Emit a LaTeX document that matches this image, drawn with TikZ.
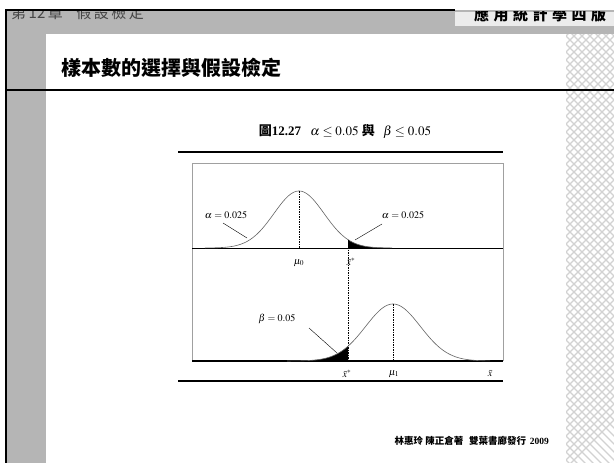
\documentclass[tikz,border=0pt]{standalone}
\usepackage{mathptmx}
\usepackage{fontspec}
\setmainfont{Liberation Serif}
\newfontfamily\cjk{Noto Sans CJK TC}
\definecolor{band}{RGB}{181,181,181}
\definecolor{lightbox}{RGB}{236,236,236}
\definecolor{hdrtext}{RGB}{70,70,70}
\definecolor{curvecol}{RGB}{100,100,100}
\definecolor{framecol}{RGB}{160,160,160}
\definecolor{fretcol}{RGB}{210,210,210}
\tikzset{
  curveline/.style={draw=curvecol, line width=0.6pt},
  guide/.style={draw=black, line width=0.7pt, dash pattern=on 1.5pt off 1pt},
  leader/.style={draw=black, line width=0.4pt},
  lbl/.style={inner sep=0.5pt, font=\fontsize{10}{12}\selectfont},
  rule/.style={draw=black, line width=1.3pt}
}
\begin{document}
\begin{tikzpicture}[x=1pt,y=-1pt]
\useasboundingbox (0,0) rectangle (614,463);
\fill[white] (0,0) rectangle (614,463);
% page frame
\fill[band] (6,10) rectangle (614,34);
\fill[band] (6,10) rectangle (46,463);
\fill[lightbox] (455,12) rectangle (614,26);
\draw[black, line width=2pt] (6,463) -- (6,10) -- (455,10);
% right pattern strip
\begin{scope}
  \clip (566,34) rectangle (614,463);
  \foreach \k in {-60,-52,...,470} {
    \draw[fretcol, line width=1.1pt] (566,\k) -- ++(60,60);
    \draw[fretcol, line width=1.1pt] (566,\k) -- ++(60,-60);
  }
\end{scope}
% header texts (clipped by frame)
\begin{scope}
  \clip (7,11) rectangle (614,34);
  \node[anchor=base west, inner sep=0, text=hdrtext, font=\cjk\fontsize{15}{15}\selectfont] (chap) at (11,19) {第\,12\,章\hspace{0.9em}假\,設\,檢\,定};
  \node[anchor=base west, inner sep=0, font=\cjk\bfseries\fontsize{15}{15}\selectfont] (book) at (474,20) {應\hspace{4.5pt}用\hspace{4.5pt}統\hspace{4.5pt}計\hspace{4.5pt}學\hspace{4.5pt}四\hspace{4.5pt}版};
\end{scope}
% title and header rule
\node[anchor=west, inner sep=0, font=\cjk\bfseries\fontsize{20}{20}\selectfont] (title) at (61,68) {樣本數的選擇與假設檢定};
\draw[black, line width=1.5pt] (7,90) -- (614,90);
% caption
\node[inner sep=0, font=\fontsize{13}{15}\selectfont] (cap) at (345,131) {{\cjk\bfseries 圖}\textbf{12.27}\hspace{0.7em}$\alpha \le 0.05$ {\cjk\bfseries 與}\hspace{0.4em} $\beta \le 0.05$};
\draw[rule] (178,152) -- (503,152);
\draw[rule] (178,381) -- (503,381);
% figure box
\draw[framecol, line width=0.9pt] (192,361) -- (192,163) -- (503,163) -- (503,361);
\draw[black, line width=0.6pt] (192,248) -- (503,248);
\draw[black, line width=1.1pt] (192,361) -- (503,361);
% upper curve: mu0=299, sigma=25
\fill[black] plot[domain=348:390, samples=40] (\x, {248-57*exp(-0.5*((\x-299)/25)^2)}) -- (390,248) -- (348,248) -- cycle;
\draw[curveline] plot[domain=205:392, samples=120] (\x, {248-57*exp(-0.5*((\x-299)/25)^2)});
\coordinate (mu0top) at (299,191);
\coordinate (mu0base) at (299,248);
\coordinate (xstop) at (348,{248-57*exp(-0.5*((348-299)/25)^2)});
\coordinate (xsbase) at (348,361);
\draw[guide] (mu0top) -- (mu0base);
\draw[guide] (xstop) -- (xsbase);
% lower curve: mu1=393, sigma=27.4
\fill[black] plot[domain=290:348, samples=50] (\x, {361-57*exp(-0.5*((\x-393)/27.4)^2)}) -- (348,361) -- (290,361) -- cycle;
\draw[curveline] plot[domain=287:490, samples=140] (\x, {361-57*exp(-0.5*((\x-393)/27.4)^2)});
\coordinate (mu1top) at (393,304);
\coordinate (mu1base) at (393,361);
\draw[guide] (mu1top) -- (mu1base);
% labels
\node[lbl] (aL) at (226,215) {$\alpha = 0.025$};
\node[lbl] (aR) at (403,215) {$\alpha = 0.025$};
\node[lbl] (b) at (277,319) {$\beta = 0.05$};
\coordinate (aLend) at (247,238);
\coordinate (aRend) at (355,240);
\coordinate (bend) at (337,353);
\draw[leader] (223,223) -- (aLend);
\draw[leader] (382,224) -- (aRend);
\draw[leader] (309,328) -- (bend);
\node[lbl] (mu0) at (299,263) {$\mu_0$};
\node[lbl] (xs1) at (351,262) {$\bar{x}^{*}$};
\node[lbl] (xs2) at (347,374) {$\bar{x}^{*}$};
\node[lbl] (mu1) at (394,374) {$\mu_1$};
\node[lbl] (xb) at (490,374) {$\bar{x}$};
% attribution
\node[anchor=east, inner sep=0, font=\fontsize{9.5}{11}\selectfont] (attr) at (549,441) {{\cjk\bfseries 林惠玲 陳正倉著\hspace{0.6em}雙葉書廊發行}\hspace{0.4em}\textbf{2009}};
\end{tikzpicture}
\end{document}
